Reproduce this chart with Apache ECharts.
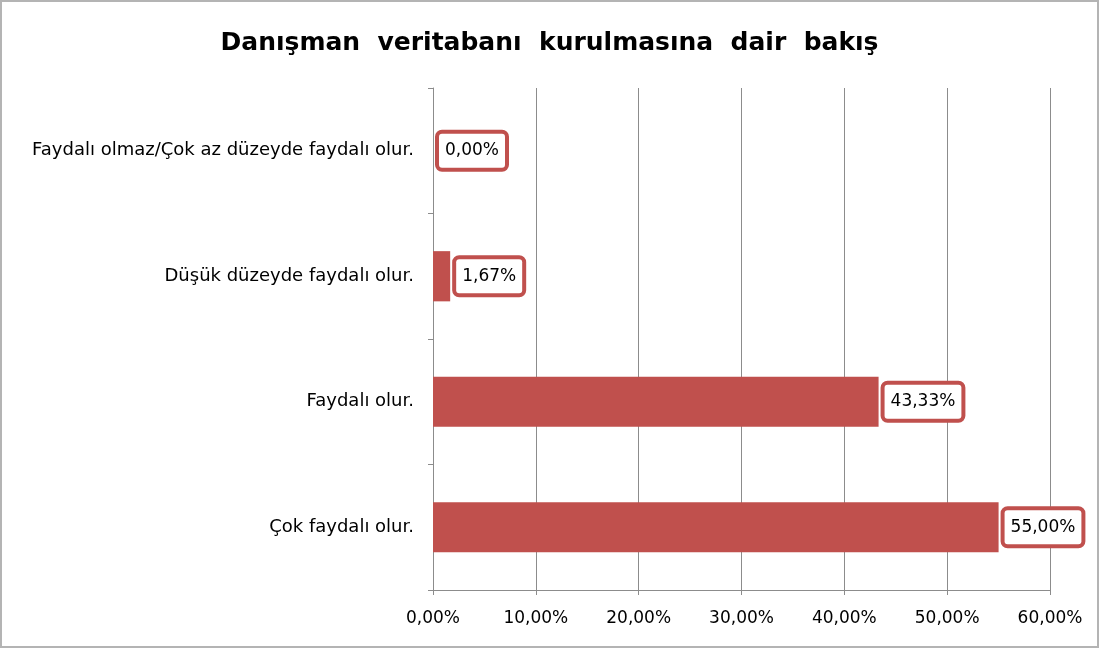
<!DOCTYPE html>
<html>
<head>
<meta charset="utf-8">
<script src="https://cdn.jsdelivr.net/npm/echarts@6/dist/echarts.min.js"></script>
<style>
html, body { margin: 0; padding: 0; background: #fff; }
#chart { width: 1099px; height: 648px; box-sizing: border-box; border: 2px solid #b4b4b4; }
</style>
</head>
<body>
<div id="chart"></div>
<script>
// kategoriler (alttan üste)
var categories = ['Çok faydalı olur.', 'Faydalı olur.', 'Düşük düzeyde faydalı olur.', 'Faydalı olmaz/Çok az düzeyde faydalı olur.'];
var values = [55.00, 43.33, 1.67, 0.00];
var xTicks = [0, 10, 20, 30, 40, 50, 60];

function pct(v) {
    return v.toFixed(2).replace('.', ',') + '%';
}

var font = '"DejaVu Sans", sans-serif';
var chart = echarts.init(document.getElementById('chart'));
chart.setOption({
    animation: false,
    title: {
        text: 'Danışman  veritabanı  kurulmasına  dair  bakış',
        left: 'center',
        top: 24,
        textStyle: { fontFamily: font, fontSize: 25, fontWeight: 'bold', color: '#000' }
    },
    grid: { left: 431, right: 47, top: 86, bottom: 56 },
    xAxis: {
        type: 'value',
        min: xTicks[0],
        max: xTicks[xTicks.length - 1],
        interval: 10,
        axisLine: { show: true, lineStyle: { color: '#8c8c8c', width: 1 } },
        axisTick: { show: true, length: 5, lineStyle: { color: '#8c8c8c' } },
        splitLine: { show: true, lineStyle: { color: '#8c8c8c', width: 1 } },
        axisLabel: {
            margin: 20,
            fontFamily: font, fontSize: 17, color: '#000',
            formatter: function (v) { return pct(v); }
        }
    },
    yAxis: {
        type: 'category',
        data: categories,
        axisLine: { show: true, lineStyle: { color: '#8c8c8c', width: 1 } },
        axisTick: { show: true, length: 5, lineStyle: { color: '#8c8c8c' } },
        axisLabel: { margin: 19, fontFamily: font, fontSize: 18, color: '#000' }
    },
    series: [{
        type: 'bar',
        data: values,
        barCategoryGap: '60%',
        itemStyle: { color: '#C0504D' },
        label: {
            show: true,
            position: 'right',
            distance: 6,
            fontFamily: font, fontSize: 17, color: '#000',
            backgroundColor: '#fff',
            borderColor: '#C0504D',
            borderWidth: 4,
            borderRadius: 3,
            padding: [9, 6, 8, 6],
            formatter: function (p) { return pct(p.value); }
        }
    }]
});
</script>
</body>
</html>
